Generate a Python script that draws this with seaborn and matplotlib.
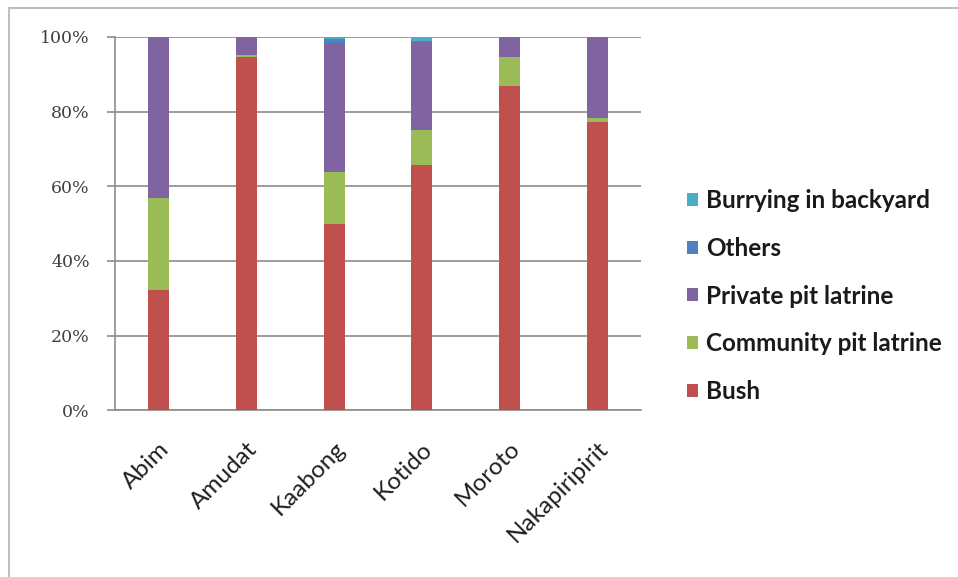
import numpy as np
import pandas as pd
import seaborn as sns
import matplotlib
matplotlib.use("Agg")
import matplotlib.pyplot as plt
from matplotlib.patches import Patch
from matplotlib.lines import Line2D

# Share of households by excreta disposal method, per district (%)
districts = ["Abim", "Amudat", "Kaabong", "Kotido", "Moroto", "Nakapiripirit"]
bush = [32.3, 94.6, 49.8, 65.8, 86.8, 77.2]
community_pit = [24.6, 0.5, 13.9, 9.4, 7.8, 1.1]
private_pit = [43.1, 4.9, 34.8, 23.5, 5.4, 21.4]
others = [0.0, 0.0, 0.9, 0.3, 0.0, 0.3]
burrying = [0.0, 0.0, 0.6, 1.0, 0.0, 0.0]

series_names = ["Bush", "Community pit latrine", "Private pit latrine",
                "Others", "Burrying in backyard"]
series_values = [bush, community_pit, private_pit, others, burrying]
series_colors = ["#C0504D", "#9BBB59", "#8064A2", "#4F81BD", "#4BACC6"]

sns.set_theme(style="white")
plt.rcParams["font.family"] = ["DejaVu Sans"]

fig = plt.figure(figsize=(9.58, 5.77), dpi=100)
ax = fig.add_axes([0.120, 0.289, 0.549, 0.647])

# Stack by overlaying cumulative totals, tallest first
cum = np.cumsum(np.array(series_values), axis=0)
for i in range(len(series_names) - 1, -1, -1):
    df = pd.DataFrame({"district": districts, "value": cum[i]})
    sns.barplot(data=df, x="district", y="value", color=series_colors[i],
                saturation=1, width=0.24, ax=ax, zorder=3, linewidth=0)

ax.set_ylim(0, 100)
ax.set_xlim(-0.5, len(districts) - 0.5)
ax.set_yticks(np.arange(0, 101, 20))
ax.set_yticklabels([f"{v}%" for v in range(0, 101, 20)],
                   family="DejaVu Serif", fontsize=12.5, color="#404040")
ax.yaxis.grid(True, color="#8C8C8C", linewidth=1.2, zorder=0)
ax.set_xlabel("")
ax.set_ylabel("")
ax.tick_params(axis="y", which="major", left=True, length=6, width=1.2,
               color="#8C8C8C", pad=12)
ax.tick_params(axis="x", bottom=False, pad=14)
for lbl in ax.get_xticklabels():
    lbl.set_rotation(45)
    lbl.set_ha("right")
    lbl.set_rotation_mode("anchor")
    lbl.set_fontfamily("Lato")
    lbl.set_fontsize(17.5)
    lbl.set_color("#1f1f1f")
for side in ["top", "right"]:
    ax.spines[side].set_visible(False)
for side in ["left", "bottom"]:
    ax.spines[side].set_color("#8C8C8C")
    ax.spines[side].set_linewidth(1.2)

handles = [Patch(facecolor=series_colors[i], edgecolor="none")
           for i in range(len(series_names) - 1, -1, -1)]
labels = [series_names[i] for i in range(len(series_names) - 1, -1, -1)]
leg = fig.legend(handles, labels, loc="center left",
                 bbox_to_anchor=(0.694, 0.487), frameon=False,
                 prop={"family": "Lato", "weight": "bold", "size": 17.5},
                 handlelength=0.45, handleheight=0.45, handletextpad=0.35,
                 labelspacing=1.02, labelcolor="#1a1a1a")

# Outer frame lines along top and left edges
fig.add_artist(Line2D([0.0095, 1.0], [0.986, 0.986], transform=fig.transFigure,
                      color="#BFBFBF", linewidth=1.5))
fig.add_artist(Line2D([0.0095, 0.0095], [0.0, 0.986], transform=fig.transFigure,
                      color="#BFBFBF", linewidth=1.5))

fig.savefig("out.png", dpi=100)
